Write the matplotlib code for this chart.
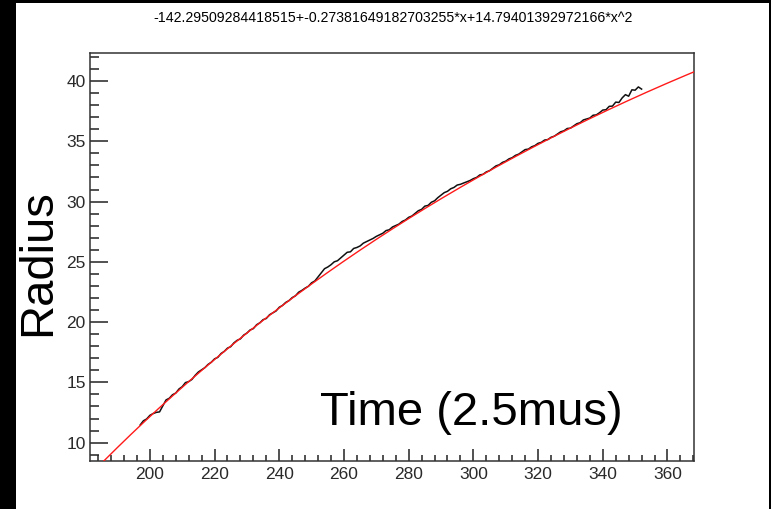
import numpy as np
import matplotlib
matplotlib.use("Agg")
import matplotlib.pyplot as plt
from matplotlib.patches import Rectangle
from matplotlib.ticker import MultipleLocator

plt.rcParams['font.family'] = ['Liberation Sans', 'DejaVu Sans']

title_text = "-142.29509284418515+-0.27381649182703255*x+14.79401392972166*x^2"
x_label = "Time (2.5mus)"
y_label = "Radius"

# fit coefficients (a + b*t + c*sqrt(t))
fit_a = -142.29509284418515
fit_b = -0.27381649182703255
fit_c = 14.79401392972166

time_start = 197
radius = [
    11.46, 11.81, 11.96, 12.26, 12.41, 12.51, 12.55, 13.05, 13.54, 13.68,
    13.97, 14.11, 14.45, 14.64, 14.98, 15.06, 15.24, 15.58, 15.86, 16.04,
    16.22, 16.49, 16.67, 16.95, 17.07, 17.39, 17.57, 17.84, 17.96, 18.28,
    18.49, 18.61, 18.92, 19.09, 19.35, 19.46, 19.78, 19.94, 20.20, 20.30,
    20.61, 20.77, 20.92, 21.23, 21.38, 21.63, 21.78, 22.03, 22.18, 22.48,
    22.63, 22.82, 22.97, 23.26, 23.41, 23.75, 24.09, 24.43, 24.57, 24.76,
    25.00, 25.09, 25.32, 25.56, 25.79, 25.83, 26.11, 26.19, 26.32, 26.55,
    26.68, 26.81, 26.94, 27.11, 27.24, 27.37, 27.59, 27.66, 27.89, 28.01,
    28.13, 28.35, 28.47, 28.69, 28.80, 29.02, 29.24, 29.35, 29.62, 29.68,
    29.94, 30.06, 30.32, 30.53, 30.74, 30.85, 31.06, 31.17, 31.37, 31.43,
    31.54, 31.64, 31.75, 31.90, 32.00, 32.21, 32.26, 32.46, 32.56, 32.76,
    32.96, 33.05, 33.25, 33.35, 33.54, 33.64, 33.83, 33.93, 34.12, 34.31,
    34.35, 34.54, 34.64, 34.83, 34.91, 35.10, 35.14, 35.33, 35.42, 35.60,
    35.79, 35.87, 36.06, 36.09, 36.27, 36.46, 36.54, 36.77, 36.85, 36.93,
    37.16, 37.19, 37.37, 37.59, 37.62, 37.90, 37.92, 38.25, 38.22, 38.60,
    38.87, 38.74, 39.27, 39.24, 39.51, 39.33,
]
time = np.arange(time_start, time_start + len(radius))

x_ticks = [200, 220, 240, 260, 280, 300, 320, 340, 360]
y_ticks = [10, 15, 20, 25, 30, 35, 40]
x_range = (181.5, 368.2)
y_range = (8.5, 42.3)

W, H = 771, 509
fig = plt.figure(figsize=(W / 100, H / 100), dpi=100, facecolor='black')
fig.patches.append(Rectangle((16 / W, 0), (769 - 16) / W, (H - 3) / H,
                             transform=fig.transFigure, facecolor='white',
                             edgecolor='none', zorder=-10))

ax = fig.add_axes([90 / W, (H - 460.7) / H, 604 / W, (460.7 - 53.3) / H])
ax.set_zorder(5)
ax.set_facecolor('white')

ax.plot(time, radius, color='#111111', lw=1.1, zorder=2)
tf = np.linspace(x_range[0], x_range[1], 400)
ax.plot(tf, fit_a + fit_b * tf + fit_c * np.sqrt(tf), color='#ff1a1a', lw=1.0, zorder=3)

ax.set_xlim(*x_range)
ax.set_ylim(*y_range)
ax.set_xticks(x_ticks)
ax.set_yticks(y_ticks)
ax.xaxis.set_minor_locator(MultipleLocator(4))
ax.yaxis.set_minor_locator(MultipleLocator(1))

for s in ax.spines.values():
    s.set_linewidth(1.1)
    s.set_color('#333333')

ax.tick_params(axis='y', which='major', direction='in', length=13, width=1.1,
               color='#222222', pad=3, labelsize=12.5, labelcolor='#2a2a2a')
ax.tick_params(axis='y', which='minor', direction='in', length=6.7, width=1.1,
               color='#222222')
ax.tick_params(axis='x', which='major', direction='in', length=8.6, width=1.1,
               color='#222222', pad=4.5, labelsize=12.5, labelcolor='#2a2a2a')
ax.tick_params(axis='x', which='minor', direction='in', length=4.3, width=1.1,
               color='#222222')

fig.text(393 / W, 1 - 18 / H, title_text, ha='center', va='center', fontsize=10.2,
         color='black', zorder=6)
fig.text(38 / W, 1 - 263 / H, y_label, rotation=90, ha='center', va='center',
         fontsize=34, color='black', zorder=6)
fig.text(320 / W, 1 - 425 / H, x_label, ha='left', va='baseline',
         fontsize=34, color='black', zorder=6)

fig.savefig('out.png', dpi=100, facecolor='black')
